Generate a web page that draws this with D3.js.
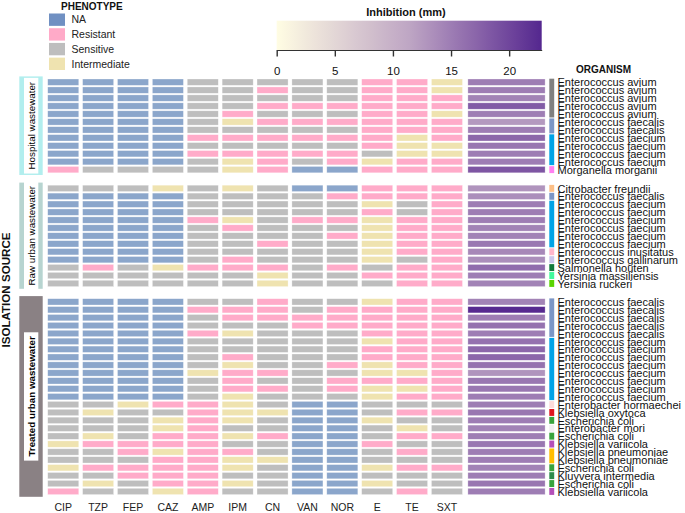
<!DOCTYPE html>
<html><head><meta charset="utf-8">
<script src="https://cdn.jsdelivr.net/npm/d3@7/dist/d3.min.js"></script>
<style>body{margin:0;background:#fff}svg{display:block;font-family:"Liberation Sans",Arial,sans-serif}</style>
</head><body><svg id="c" width="685" height="513"></svg>
<script>
// ---------------- DATA ----------------
const antibiotics = ["CIP","TZP","FEP","CAZ","AMP","IPM","CN","VAN","NOR","E","TE","SXT"];
const phenotypeCodes = ["N","R","S","I"];
const phenotypeLabels = ["NA","Resistant","Sensitive","Intermediate"];
const sources = ["Hospital wastewater","Raw urban wastewater","Treated urban wastewater"];

const hospitalOrganisms = ["Enterococcus avium","Enterococcus avium","Enterococcus avium","Enterococcus avium","Enterococcus avium",
  "Enterococcus faecalis","Enterococcus faecalis","Enterococcus faecium","Enterococcus faecium","Enterococcus faecium","Enterococcus faecium",
  "Morganella morganii"];
const hospitalPhenotypes = ["NNNNSSSSSRRI","NNNNSSRSSRRI","NNNNSSSSSRRR","NNNNSSRRRRRR","NNNNSRSSSRRI","NNNNSIRRRRRR",
  "NNNNSSSSSRRR","NNNNRRRRRRIR","NNNNSSSSSRII","NNNNRRRRRSII","NNNNSIRSRIRR","RSSSSIRNNRRR"];
const hospitalInhibition = [15,15,14.5,18,15,12.5,15,17,15.5,15,15,18.5];

const rawOrganisms = ["Citrobacter freundii","Enterococcus faecalis","Enterococcus faecium","Enterococcus faecium","Enterococcus faecium",
  "Enterococcus faecium","Enterococcus faecium","Enterococcus faecium","Enterococcus inusitatus","Enterococcus gallinarum",
  "Salmonella houten","Yersinia massiliensis","Yersinia ruckeri"];
const rawPhenotypes = ["SSSISISNNRRR","NNNNSSSSRRRR","NNNNSSSSSISR","NNNNSSSSSRSR","NNNNRISRRIRR","NNNNSRSSSIRR",
  "NNNNSSSSRIRR","NNNNSSRSSIRR","NNNNSSSSSIRR","NNNNSRSSSISR","SRSIRRRSRSRR","SSSSSSISSRRR","SSSSSSISSSRR"];
const rawInhibition = [13,13.5,15,15,15,14.5,14.5,15.5,14,13.5,16.5,15,14.5];

const treatedOrganisms = ["Enterococcus faecalis","Enterococcus faecalis","Enterococcus faecalis","Enterococcus faecalis","Enterococcus faecalis",
  "Enterococcus faecium","Enterococcus faecium","Enterococcus faecium","Enterococcus faecium","Enterococcus faecium",
  "Enterococcus faecium","Enterococcus faecium","Enterococcus faecium",
  "Enterobacter hormaechei","Klebsiella oxytoca","Escherichia coli","Enterobacter mori","Escherichia coli","Klebsiella variicola",
  "Klebsiella pneumoniae","Klebsiella pneumoniae","Escherichia coli","Kluyvera intermedia","Escherichia coli","Klebsiella variicola"];
const treatedPhenotypes = ["NNNNSSRSSIRR","NNNNRRRSRRRR","NNNNSRRRRRRR","NNNNSSSRRRRR","NNNNRISSSRRR","NNNNSSSSSIRR",
  "NNNNSSSSSRRR","NNNNSRSSSRRR","NNNNSISSRIRR","NNNNIRRSSIIR","NNNNSRSSRRRR","NNNNSRRSRIIR","NNNNSISSSIRR",
  "SSIRRISNNSSS","SISSRIINNSRR","SSSIRISNNISS","SSSIRSSNNSIS","SISRRIRNNSRR","IRRRRSSNNRSS",
  "SSRIRRSNNSRS","SSSRRIINNSSS","IRRRRISNNIRR","SSRRRSSNNSSS","SISRRISNNISS","RSSIRSSNNSRS"];
const treatedInhibition = [14.5,22.5,15,16,15,16,17,17,16,13,15.5,15.5,15,15,15.5,15,14.5,15,15.5,15,15,14.5,15,15.5,15];

const inhibitionTicks = [0,5,10,15,20];
const inhibitionMax = 22.8;

const organismColors = {
  "Enterococcus avium":"#808080","Enterococcus faecalis":"#7b96c6","Enterococcus faecium":"#00a3e6",
  "Morganella morganii":"#ff80f0","Citrobacter freundii":"#fcbf86","Enterococcus inusitatus":"#ffb6cb",
  "Enterococcus gallinarum":"#cbc6ec","Salmonella houten":"#137a3c","Yersinia massiliensis":"#42f99c",
  "Yersinia ruckeri":"#5bd500","Enterobacter hormaechei":"#fbdada","Klebsiella oxytoca":"#e0141e",
  "Escherichia coli":"#38a33c","Enterobacter mori":"#f0eef0","Klebsiella variicola":"#b44fb8",
  "Klebsiella pneumoniae":"#ffbe00","Kluyvera intermedia":"#2d8a4c"};
const phenotypeCellColors = {N:"#8ba6cb",R:"#ffabc9",S:"#bebebe",I:"#efe3b0"};
const phenotypeLegendColors = {N:"#7090c2",R:"#ffaac8",S:"#bebebe",I:"#efe3b0"};
const sourceColors = ["#b2eeee","#b7d4d0","#8a8184"];

// ---------------- LAYOUT ----------------
const svg = d3.select("#c");
const sections = [
  {name:sources[0], orgs:hospitalOrganisms, phen:hospitalPhenotypes, inh:hospitalInhibition, range:[78.2,173.6], bold:false},
  {name:sources[1], orgs:rawOrganisms, phen:rawPhenotypes, inh:rawInhibition, range:[184.4,287.4], bold:false},
  {name:sources[2], orgs:treatedOrganisms, phen:treatedPhenotypes, inh:treatedInhibition, range:[297.9,495.4], bold:true}
];
const x = d3.scaleBand().domain(antibiotics).range([45.8,464.4]).paddingInner(0.11).paddingOuter(0.055);
const xInh = d3.scaleBand().domain(["Inhibition"]).range([467.5,545.5]).padding(0.005);
const xBar = d3.scaleBand().domain(["Organism"]).range([549.3,554.2]);
const inhColor = d3.scaleLinear().domain([0, inhibitionMax/2, inhibitionMax]).range(["#fffde3","#bea6c4","#54278f"]).interpolate(d3.interpolateLab);

sections.forEach((sec, si) => {
  const y = d3.scaleBand().domain(d3.range(sec.orgs.length)).range(sec.range).paddingInner(0.2).paddingOuter(0.1);
  const g = svg.append("g");
  const stripTop = sec.range[0] - 1.8, stripBot = sec.range[1] + 1.4;
  g.append("rect").attr("x",19.3).attr("y",stripTop).attr("width",23.4).attr("height",stripBot-stripTop).attr("fill",sourceColors[si]);
  const cy = (stripTop+stripBot)/2;
  const t = g.append("text").attr("transform",`translate(34.6,${cy}) rotate(-90)`).attr("text-anchor","middle")
    .attr("font-size","9.8px").attr("font-weight", sec.bold?"bold":"normal").attr("fill","#000").text(sec.name);
  const len = t.node().getComputedTextLength();
  g.insert("rect","text").attr("x",24).attr("y",cy-len/2-4).attr("width",14.3).attr("height",len+8).attr("fill","#fff");

  sec.phen.forEach((p,i) => {
    g.selectAll(null).data(antibiotics.map((a,j)=>({a, v:p[j]}))).enter().append("rect")
      .attr("x",d=>x(d.a)).attr("y",y(i)).attr("width",x.bandwidth()).attr("height",y.bandwidth())
      .attr("fill",d=>phenotypeCellColors[d.v]).attr("stroke","#fff").attr("stroke-opacity",0.5).attr("stroke-width",0.6);
  });
  g.selectAll(null).data(sec.inh).enter().append("rect")
    .attr("x",xInh("Inhibition")).attr("y",(d,i)=>y(i)).attr("width",xInh.bandwidth()).attr("height",y.bandwidth())
    .attr("fill",d=>inhColor(d)).attr("stroke","#fff").attr("stroke-opacity",0.5).attr("stroke-width",0.6);
  const groups = [];
  sec.orgs.forEach((o,i)=>{ if(groups.length && groups[groups.length-1].o===o) groups[groups.length-1].end=i; else groups.push({o,start:i,end:i}); });
  g.selectAll(null).data(groups).enter().append("rect")
    .attr("x",xBar("Organism")).attr("width",xBar.bandwidth())
    .attr("y",d=>y(d.start)-0.3).attr("height",d=>y(d.end)+y.bandwidth()-y(d.start)+0.6)
    .attr("fill",d=>organismColors[d.o]);
  g.selectAll(null).data(sec.orgs).enter().append("text")
    .attr("x",557.5).attr("y",(d,i)=>y(i)+y.bandwidth()/2+4.2)
    .attr("font-size","11px").attr("fill","#111").text(d=>d);
});

svg.append("g").selectAll("text").data(antibiotics).enter().append("text")
  .attr("x",d=>x(d)+x.bandwidth()/2).attr("y",511).attr("text-anchor","middle")
  .attr("font-size","10.5px").attr("fill","#222").text(d=>d);

svg.append("text").attr("transform","translate(10,290) rotate(-90)").attr("text-anchor","middle")
  .attr("font-size","11.6px").attr("font-weight","bold").attr("fill","#111").text("ISOLATION SOURCE");

svg.append("text").attr("x",576).attr("y",72.5).attr("font-size","10px").attr("font-weight","bold").attr("fill","#111").text("ORGANISM");

const lg = svg.append("g");
lg.append("text").attr("x",61).attr("y",9.5).attr("font-size","10px").attr("font-weight","bold").attr("fill","#111").text("PHENOTYPE");
const ly = d3.scaleBand().domain(phenotypeCodes).range([13.5,70]).paddingInner(0.16);
lg.selectAll("rect").data(phenotypeCodes).enter().append("rect")
  .attr("x",49).attr("y",d=>ly(d)).attr("width",16).attr("height",ly.bandwidth()).attr("fill",d=>phenotypeLegendColors[d]);
lg.selectAll("text.l").data(phenotypeCodes).enter().append("text").attr("class","l")
  .attr("x",71.5).attr("y",d=>ly(d)+ly.bandwidth()/2+3.8).attr("font-size","10.5px").attr("fill","#222")
  .text((d,i)=>phenotypeLabels[i]);

const xl = d3.scaleLinear().domain([0,inhibitionMax]).range([276.7,541.7]);
const defs = svg.append("defs");
const grad = defs.append("linearGradient").attr("id","ig").attr("x1","0%").attr("x2","100%");
d3.range(0,1.0001,0.05).forEach(t=>grad.append("stop").attr("offset",(t*100)+"%").attr("stop-color",inhColor(t*inhibitionMax)));
svg.append("rect").attr("x",xl(0)).attr("y",20.7).attr("width",xl(inhibitionMax)-xl(0)).attr("height",29.3).attr("fill","url(#ig)");
svg.append("text").attr("x",406).attr("y",15.5).attr("text-anchor","middle").attr("font-size","11px").attr("font-weight","bold").attr("fill","#111").text("Inhibition (mm)");
const ax = svg.append("g").attr("transform","translate(0,50)")
  .call(d3.axisBottom(xl).tickValues(inhibitionTicks).tickSize(6.5).tickPadding(10).tickSizeOuter(0));
ax.select(".domain").attr("stroke","#333").attr("stroke-width",1);
ax.selectAll(".tick line").attr("stroke","#333").attr("stroke-width",1.4);
ax.selectAll(".tick text").attr("font-size","11.5px").attr("fill","#111").attr("font-family","Liberation Sans, Arial, sans-serif");
</script></body></html>
